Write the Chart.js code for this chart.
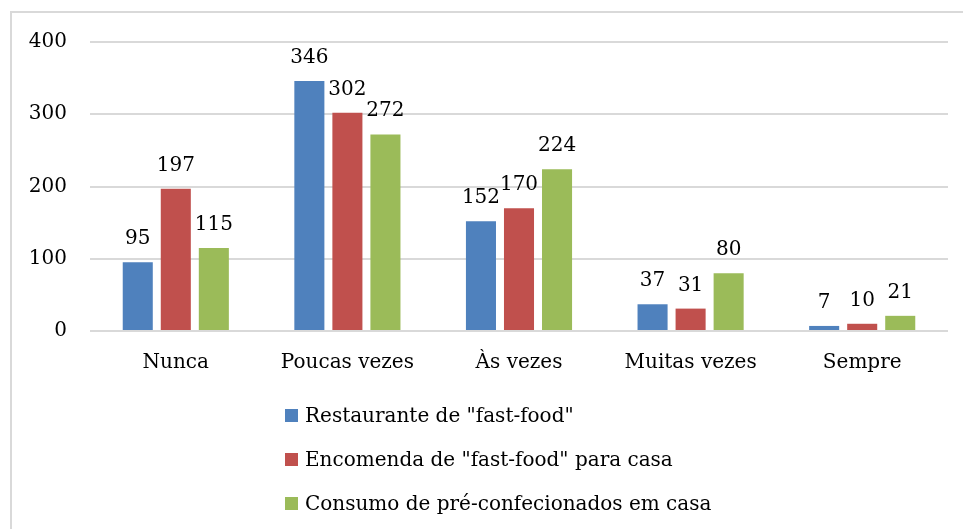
<!DOCTYPE html>
<html>
<head>
<meta charset="utf-8">
<script src="https://cdn.jsdelivr.net/npm/chart.js@4/dist/chart.umd.min.js"></script>
<style>
	html, body { margin: 0; padding: 0; background: #fff; overflow: hidden; }
	#quadro { position: relative; width: 963px; height: 529px; }
	#moldura { position: absolute; left: 10px; top: 11px; width: 1000px; height: 600px; border: 2px solid #d9d9d9; }
	#grafico { position: absolute; left: 0; top: 0; }
	#legenda { position: absolute; left: 285px; top: 393px; font-family: "DejaVu Serif", serif; font-size: 20px; color: #000; }
	.item_legenda { display: flex; align-items: center; height: 44px; margin-top: 0; }
	.item_legenda span.cor { display: inline-block; width: 13px; height: 13px; margin-right: 7px; }
</style>
</head>
<body>
<div id="quadro">
	<div id="moldura"></div>
	<canvas id="grafico" width="963" height="529"></canvas>
	<div id="legenda"></div>
</div>
<script>
var categorias = ["Nunca", "Poucas vezes", "Às vezes", "Muitas vezes", "Sempre"];
var restaurante = [95, 346, 152, 37, 7];
var encomenda = [197, 302, 170, 31, 10];
var preConfecionados = [115, 272, 224, 80, 21];
var ticksY = [0, 100, 200, 300, 400];

var fonte = "DejaVu Serif";

// rótulos de valor em cima das barras
var plugin_rotulos = {
	id: "rotulos",
	afterDatasetsDraw: function (chart) {
		var ctx = chart.ctx;
		ctx.save();
		ctx.font = `20px "${fonte}"`;
		ctx.fillStyle = "#000";
		ctx.textAlign = "center";
		ctx.textBaseline = "alphabetic";
		chart.data.datasets.forEach(function (ds, i) {
			var meta = chart.getDatasetMeta(i);
			meta.data.forEach(function (barra, j) {
				ctx.fillText(String(ds.data[j]), barra.x, barra.y - 18);
			});
		});
		ctx.restore();
	},
};

var chart_barras = new Chart(document.getElementById("grafico"), {
	type: "bar",
	data: {
		labels: categorias,
		datasets: [
			{ label: 'Restaurante de "fast-food"', data: restaurante, backgroundColor: "#4F81BD" },
			{ label: 'Encomenda de "fast-food" para casa', data: encomenda, backgroundColor: "#C0504D" },
			{ label: "Consumo de pré-confecionados em casa", data: preConfecionados, backgroundColor: "#9BBB59" },
		],
	},
	options: {
		responsive: false,
		animation: false,
		categoryPercentage: 0.665,
		barPercentage: 0.79,
		layout: { padding: { top: 42, right: 15, bottom: 0, left: 0 } },
		scales: {
			y: {
				min: 0,
				max: 400,
				afterFit: function (scale) { scale.width = 90; },
				afterBuildTicks: function (scale) {
					scale.ticks = ticksY.map(function (v) { return { value: v }; });
				},
				border: { display: false },
				grid: { color: "#d9d9d9", lineWidth: 2, drawTicks: false },
				ticks: { color: "#000", padding: 23, font: { family: fonte, size: 20 } },
			},
			x: {
				afterFit: function (scale) { scale.height = 198; },
				border: { display: false },
				grid: { display: false, drawTicks: false },
				ticks: { color: "#000", padding: 20, font: { family: fonte, size: 20 } },
			},
		},
		plugins: {
			legend: { display: false },
			tooltip: { enabled: false },
		},
	},
	plugins: [plugin_rotulos],
});

// legenda em lista vertical, como no original
var legenda = document.getElementById("legenda");
chart_barras.data.datasets.forEach(function (ds) {
	legenda.innerHTML += `<div class="item_legenda"><span class="cor" style="background:${ds.backgroundColor}"></span><span>${ds.label.replace(/"/g, "&quot;")}</span></div>`;
});
</script>
</body>
</html>
